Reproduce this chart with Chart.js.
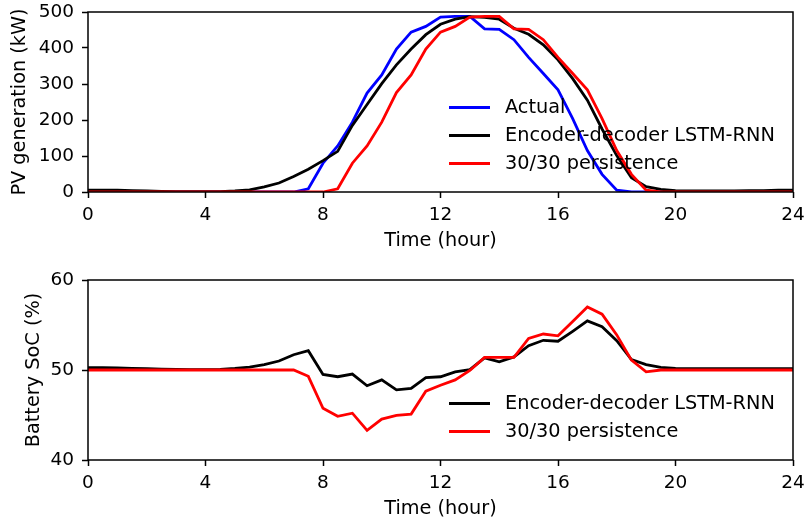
<!DOCTYPE html>
<html>
<head>
<meta charset="utf-8">
<script src="https://cdn.jsdelivr.net/npm/chart.js@4/dist/chart.umd.min.js"></script>
<style>
  html, body { margin: 0; padding: 0; background: #fff; }
  #wrap { position: relative; width: 804px; height: 523px; overflow: hidden; }
  #wrap canvas { position: absolute; left: 0; }
  .legend { position: absolute; font-family: 'DejaVu Sans', sans-serif; font-size: 19.3px; color: #000; }
  .legend .row { height: 28px; line-height: 28px; white-space: nowrap; }
  .legend .swatch { display: inline-block; width: 41px; height: 0; border-top: 3px solid; vertical-align: middle; margin-right: 15px; }
</style>
</head>
<body>
<div id="wrap">
  <canvas id="pv" width="804" height="260" style="top:0"></canvas>
  <canvas id="soc" width="804" height="263" style="top:260px"></canvas>
  <div class="legend" id="pvLegend" style="left:449px; top:93px"></div>
  <div class="legend" id="socLegend" style="left:449px; top:389px"></div>
</div>
<script>
  const FONT = "'DejaVu Sans', sans-serif";
  const TICK_SIZE = 18.5;
  const TITLE_SIZE = 19.3;

  const hours = [0, 0.5, 1, 1.5, 2, 2.5, 3, 3.5, 4, 4.5, 5, 5.5, 6, 6.5, 7, 7.5, 8, 8.5, 9, 9.5,
    10, 10.5, 11, 11.5, 12, 12.5, 13, 13.5, 14, 14.5, 15, 15.5, 16, 16.5, 17, 17.5, 18, 18.5, 19, 19.5,
    20, 20.5, 21, 21.5, 22, 22.5, 23, 23.5, 24];

  // PV generation (kW)
  const pvActual = [0, 0, 0, 0, 0, 0, 0, 0, 0, 0, 0, 0, 0, 0, 0, 9, 80, 128, 194, 275,
    325, 397, 444, 460, 486, 488, 488, 453, 452, 423, 374, 329, 284, 204, 115, 49, 5, 0, 0, 0,
    0, 0, 0, 0, 0, 0, 0, 0, 0];
  const pvLstm = [5, 5, 5, 4, 3, 2, 1, 1, 1, 1, 3, 6, 14, 25, 43, 63, 87, 113, 185, 243,
    301, 353, 397, 437, 466, 480, 487, 485, 480, 455, 438, 409, 367, 315, 255, 175, 101, 40, 15, 7,
    4, 3, 3, 3, 3, 4, 4, 5, 5];
  const pvPersist = [0, 0, 0, 0, 0, 0, 0, 0, 0, 0, 0, 0, 0, 0, 0, 0, 0, 9, 80, 128,
    194, 276, 325, 397, 444, 460, 486, 488, 488, 453, 452, 423, 374, 329, 284, 204, 115, 49, 5, 0,
    0, 0, 0, 0, 0, 0, 0, 0, 0];

  // battery state of charge (%)
  const socLstm = [50.25, 50.25, 50.22, 50.18, 50.14, 50.1, 50.07, 50.05, 50.05, 50.08, 50.18, 50.32, 50.6, 51.0, 51.7, 52.15, 49.5, 49.25, 49.55, 48.25,
    48.9, 47.8, 47.95, 49.15, 49.25, 49.8, 50.05, 51.35, 50.9, 51.45, 52.7, 53.3, 53.2, 54.3, 55.45, 54.8, 53.25, 51.15, 50.6, 50.28,
    50.18, 50.15, 50.15, 50.15, 50.15, 50.15, 50.15, 50.15, 50.15];
  const socPersist = [50, 50, 50, 50, 50, 50, 50, 50, 50, 50, 50, 50, 50, 50, 50, 49.3, 45.75, 44.85, 45.2, 43.3,
    44.55, 44.95, 45.1, 47.65, 48.3, 48.9, 49.95, 51.4, 51.4, 51.4, 53.5, 54.0, 53.8, 55.4, 57.0, 56.2, 53.9, 51.1, 49.8, 50.0,
    50, 50, 50, 50, 50, 50, 50, 50, 50];

  const xTicks = [0, 4, 8, 12, 16, 20, 24];

  const points = (ys) => hours.map((h, i) => ({ x: h, y: ys[i] }));

  function line(label, ys, color, order) {
    return {
      label, data: points(ys), borderColor: color, backgroundColor: color,
      borderWidth: 2.8, pointRadius: 0, tension: 0, fill: false, order, clip: 0,
    };
  }

  // matplotlib-style box round the plot area
  const frame = {
    id: 'frame',
    afterDatasetsDraw(chart) {
      const { ctx, chartArea: a } = chart;
      ctx.save();
      ctx.strokeStyle = '#000';
      ctx.lineWidth = 1.5;
      ctx.strokeRect(a.left, a.top, a.right - a.left, a.bottom - a.top);
      ctx.restore();
    },
  };

  const tickGrid = { drawOnChartArea: false, drawTicks: true, tickLength: 6, tickWidth: 1.5, tickColor: '#000' };

  function axes(yMin, yMax, yStep, yTitle, yTitlePad, xHeight, xTitlePad) {
    return {
      x: {
        type: 'linear', min: 0, max: 24,
        afterBuildTicks: (s) => { s.ticks = xTicks.map((v) => ({ value: v })); },
        ticks: { color: '#000', font: { family: FONT, size: TICK_SIZE }, padding: 6, maxRotation: 0 },
        grid: tickGrid,
        border: { display: false },
        title: { display: true, text: 'Time (hour)', color: '#000', font: { family: FONT, size: TITLE_SIZE }, padding: { top: 0, bottom: xTitlePad } },
        afterFit: (s) => { s.height = xHeight; s.paddingLeft = 0; s.paddingRight = 0; },
      },
      y: {
        min: yMin, max: yMax,
        ticks: { stepSize: yStep, color: '#000', font: { family: FONT, size: TICK_SIZE }, padding: 8 },
        grid: tickGrid,
        border: { display: false },
        title: { display: true, text: yTitle, color: '#000', font: { family: FONT, size: TITLE_SIZE }, padding: { top: yTitlePad, bottom: 0 } },
        afterFit: (s) => { s.width = 88; s.paddingTop = 0; s.paddingBottom = 0; },
      },
    };
  }

  function baseOptions(padTop, scales) {
    return {
      responsive: false, animation: false, devicePixelRatio: 1,
      layout: { padding: { top: padTop, right: 11, left: 0, bottom: 0 } },
      plugins: { legend: { display: false }, tooltip: { enabled: false } },
      scales,
    };
  }

  const pvChart = new Chart(document.getElementById('pv'), {
    type: 'line',
    data: {
      datasets: [
        line('Actual', pvActual, '#0000ff', 3),
        line('Encoder-decoder LSTM-RNN', pvLstm, '#000000', 2),
        line('30/30 persistence', pvPersist, '#ff0000', 1),
      ],
    },
    options: baseOptions(12, axes(0, 500, 100, 'PV generation (kW)', 8, 68, 7)),
    plugins: [frame],
  });

  const socChart = new Chart(document.getElementById('soc'), {
    type: 'line',
    data: {
      datasets: [
        line('Encoder-decoder LSTM-RNN', socLstm, '#000000', 2),
        line('30/30 persistence', socPersist, '#ff0000', 1),
      ],
    },
    options: baseOptions(20, axes(40, 60, 10, 'Battery SoC (%)', 22, 63, 2)),
    plugins: [frame],
  });

  function buildLegend(el, chart) {
    el.innerHTML = chart.data.datasets.map((d) =>
      `<div class="row"><span class="swatch" style="border-color:${d.borderColor}"></span>${d.label}</div>`
    ).join('');
  }
  buildLegend(document.getElementById('pvLegend'), pvChart);
  buildLegend(document.getElementById('socLegend'), socChart);
</script>
</body>
</html>
